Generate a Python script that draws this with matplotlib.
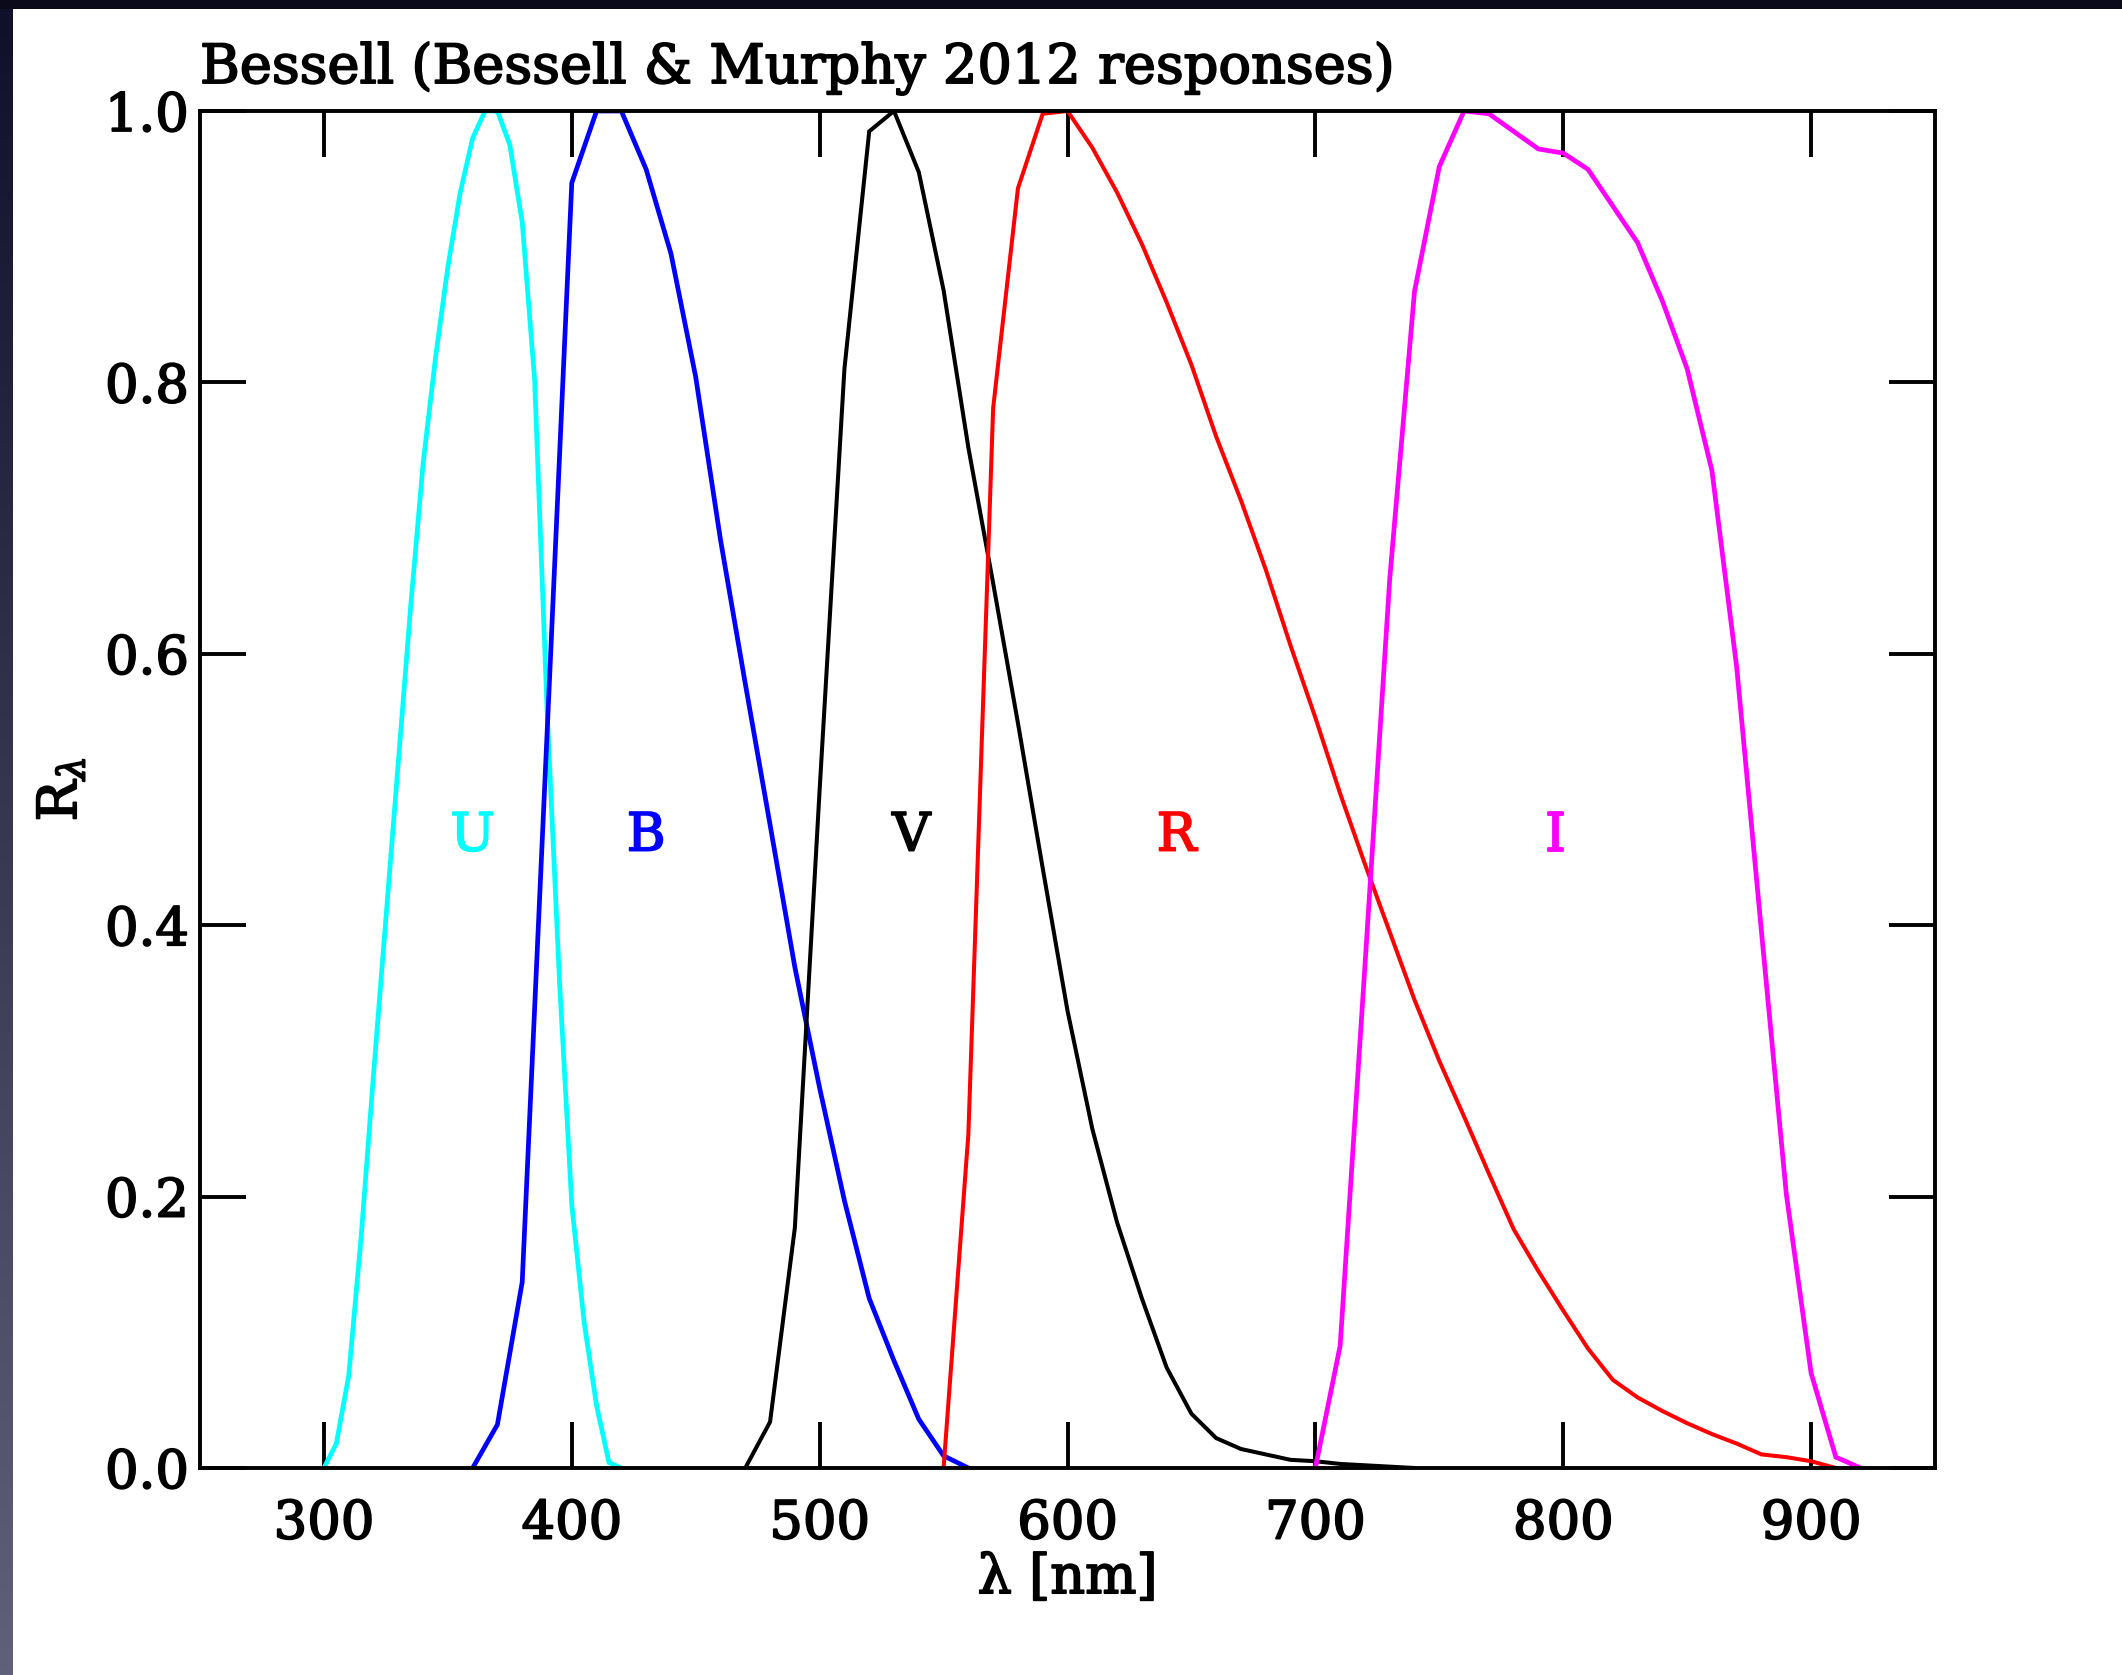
import matplotlib
matplotlib.use('Agg')
import matplotlib.pyplot as plt
from matplotlib.patches import Rectangle
from matplotlib.colors import LinearSegmentedColormap
import matplotlib.patheffects as pe
import numpy as np

# ---------------- data ----------------
u_wl = [300, 305, 310, 315, 320, 325, 330, 335, 340, 345, 350, 355, 360,
        365, 370, 375, 380, 385, 390, 395, 400, 405, 410, 415, 420]
u_resp = [0.000, 0.018, 0.068, 0.170, 0.290, 0.405, 0.520, 0.635, 0.740,
          0.818, 0.885, 0.940, 0.980, 1.000, 1.000, 0.975, 0.918, 0.802,
          0.560, 0.360, 0.194, 0.107, 0.046, 0.004, 0.000]

b_wl = [360, 370, 380, 390, 400, 410, 420, 430, 440, 450, 460, 470, 480,
        490, 500, 510, 520, 530, 540, 550, 560]
b_resp = [0.000, 0.032, 0.137, 0.540, 0.947, 1.000, 1.000, 0.957, 0.895,
          0.804, 0.684, 0.578, 0.474, 0.369, 0.280, 0.197, 0.125, 0.079,
          0.036, 0.009, 0.000]

v_wl = [470, 480, 490, 500, 510, 520, 530, 540, 550, 560, 570, 580, 590,
        600, 610, 620, 630, 640, 650, 660, 670, 680, 690, 700, 710, 720,
        730, 740]
v_resp = [0.000, 0.034, 0.177, 0.500, 0.810, 0.985, 1.000, 0.955, 0.868,
          0.752, 0.652, 0.549, 0.442, 0.337, 0.250, 0.181, 0.125, 0.074,
          0.040, 0.022, 0.014, 0.010, 0.006, 0.005, 0.003, 0.002, 0.001,
          0.000]

r_wl = [550, 560, 570, 580, 590, 600, 610, 620, 630, 640, 650, 660, 670,
        680, 690, 700, 710, 720, 730, 740, 750, 760, 770, 780, 790, 800,
        810, 820, 830, 840, 850, 860, 870, 880, 890, 900, 910]
r_resp = [0.000, 0.246, 0.781, 0.943, 0.998, 1.000, 0.973, 0.940, 0.902,
          0.859, 0.813, 0.760, 0.713, 0.662, 0.606, 0.553, 0.497, 0.445,
          0.395, 0.345, 0.300, 0.259, 0.217, 0.176, 0.145, 0.116, 0.088,
          0.065, 0.052, 0.042, 0.033, 0.025, 0.018, 0.010, 0.008, 0.005,
          0.000]

i_wl = [700, 710, 720, 730, 740, 750, 760, 770, 780, 790, 800, 810, 820,
        830, 840, 850, 860, 870, 880, 890, 900, 910, 920]
i_resp = [0.000, 0.090, 0.370, 0.655, 0.867, 0.959, 1.000, 0.998, 0.985,
          0.972, 0.969, 0.957, 0.930, 0.903, 0.860, 0.810, 0.735, 0.590,
          0.395, 0.202, 0.070, 0.008, 0.000]

band_names = ['U', 'B', 'V', 'R', 'I']
band_label_x = [360, 430, 537, 644, 797]
band_colors = ['#00FFFF', '#0000FF', '#000000', '#FF0000', '#FF00FF']

x_ticks = [300, 400, 500, 600, 700, 800, 900]
y_ticks = [0.0, 0.2, 0.4, 0.6, 0.8, 1.0]

title = 'Bessell (Bessell & Murphy 2012 responses)'

# ---------------- figure ----------------
plt.rcParams['font.family'] = ['DejaVu Serif']
plt.rcParams['mathtext.fontset'] = 'dejavuserif'

W, H = 2122, 1675
fig = plt.figure(figsize=(W / 100, H / 100), dpi=100)
fig.patch.set_facecolor('white')

# dark frame strips (top and left gradient)
fig.add_artist(Rectangle((0, 1 - 9 / H), 1, 9 / H, transform=fig.transFigure,
                         facecolor='#0a0a1a', edgecolor='none', zorder=0))
sax = fig.add_axes([0, 0, 13 / W, 1 - 9 / H])
cmap = LinearSegmentedColormap.from_list('strip', ['#10102a', '#60607a'])
sax.imshow(np.linspace(0, 1, 256).reshape(-1, 1), aspect='auto', cmap=cmap,
           extent=[0, 1, 0, 1], origin='upper')
sax.set_axis_off()

ax = fig.add_axes([200 / W, 1 - 1468 / H, 1735 / W, 1357 / H])


def bold(color='black'):
    return [pe.withStroke(linewidth=1.3, foreground=color)]


series = [(u_wl, u_resp), (b_wl, b_resp), (v_wl, v_resp), (r_wl, r_resp),
          (i_wl, i_resp)]
widths = [3.4, 3.4, 2.9, 2.9, 3.4]
for (wl, rs), c, lw in zip(series, band_colors, widths):
    ax.plot(wl, rs, color=c, lw=lw, solid_joinstyle='miter')

for name, xl, c in zip(band_names, band_label_x, band_colors):
    ax.text(xl, 0.455, name, color=c, fontsize=38, ha='center',
            va='baseline', path_effects=bold(c))

ax.set_xlim(250, 950)
ax.set_ylim(0, 1)
ax.set_xticks(x_ticks)
ax.set_yticks(y_ticks)
ax.set_xticklabels([str(t) for t in x_ticks])
ax.set_yticklabels(['%.1f' % t for t in y_ticks])

for sp in ax.spines.values():
    sp.set_linewidth(2.8)
ax.tick_params(axis='both', which='major', direction='in', length=33,
               width=2.8, labelsize=38, top=True, right=True)
ax.tick_params(axis='x', pad=22)
ax.tick_params(axis='y', pad=8)
for lab in ax.get_xticklabels() + ax.get_yticklabels():
    lab.set_path_effects(bold())

ax.set_xlabel('λ [nm]', fontsize=39, path_effects=bold())
ax.xaxis.set_label_coords(0.5, -0.062)
ax.set_ylabel(r'R$_\lambda$', fontsize=39, path_effects=bold())
ax.yaxis.set_label_coords(-0.065, 0.5)

ax.text(0.0, 1.0206, title, transform=ax.transAxes, fontsize=39,
        ha='left', va='baseline', path_effects=bold())

fig.savefig('out.png', dpi=100)
